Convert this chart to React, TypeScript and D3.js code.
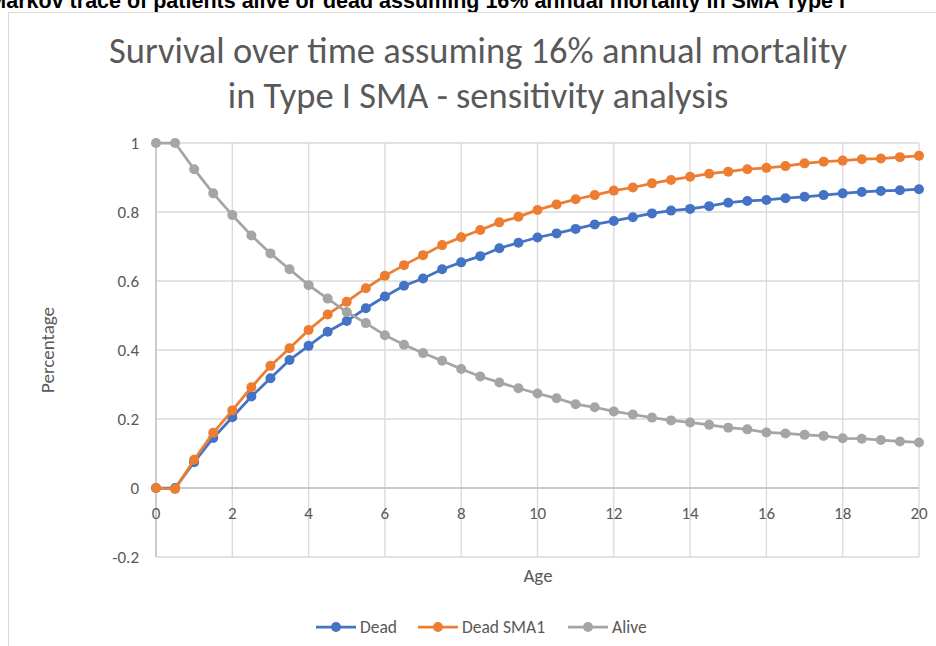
import React from "react";
import * as d3 from "d3";

const ages = [0,0.5,1,1.5,2,2.5,3,3.5,4,4.5,5,5.5,6,6.5,7,7.5,8,8.5,9,9.5,10,10.5,11,11.5,12,12.5,13,13.5,14,14.5,15,15.5,16,16.5,17,17.5,18,18.5,19,19.5,20];
const dead = [0,0,0.075,0.145,0.205,0.265,0.318,0.371,0.412,0.453,0.484,0.521,0.555,0.586,0.607,0.634,0.654,0.672,0.695,0.711,0.726,0.738,0.751,0.764,0.774,0.785,0.796,0.804,0.809,0.817,0.827,0.832,0.835,0.840,0.844,0.849,0.854,0.858,0.861,0.863,0.866];
const deadSMA1 = [0,-0.003,0.082,0.16,0.225,0.292,0.354,0.405,0.458,0.503,0.540,0.579,0.615,0.646,0.675,0.704,0.727,0.748,0.770,0.786,0.806,0.822,0.837,0.849,0.862,0.871,0.883,0.893,0.902,0.911,0.917,0.924,0.928,0.933,0.941,0.946,0.949,0.953,0.955,0.959,0.963];
const alive = [1,1,0.924,0.854,0.791,0.732,0.680,0.634,0.588,0.549,0.510,0.478,0.443,0.415,0.391,0.369,0.345,0.323,0.306,0.289,0.274,0.260,0.243,0.234,0.222,0.213,0.204,0.196,0.190,0.183,0.175,0.170,0.161,0.158,0.154,0.151,0.144,0.143,0.139,0.135,0.132];

const seriesNames = ["Dead", "Dead SMA1", "Alive"];
const seriesColors = ["#4472C4", "#ED7D31", "#A5A5A5"];
const seriesValues = [dead, deadSMA1, alive];

const xTicks = [0,2,4,6,8,10,12,14,16,18,20];
const yTicks = [-0.2,0,0.2,0.4,0.6,0.8,1];
const yTickLabels = ["-0.2","0","0.2","0.4","0.6","0.8","1"];

const heading = "Markov trace of patients alive or dead assuming 16% annual mortality in SMA Type I";
const titleLines = ["Survival over time assuming 16% annual mortality", "in Type I SMA - sensitivity analysis"];

export default function App() {
  const W = 936, H = 646;
  const x = d3.scaleLinear().domain([0, 20]).range([156, 919]);
  const y = d3.scaleLinear().domain([-0.2, 1]).range([557, 143]);
  const line = d3.line<[number, number]>().x(d => x(d[0])).y(d => y(d[1]));
  const font = "Calibri, Carlito, 'Open Sans', sans-serif";
  const legendX = [316, 418, 568];
  return (
    <svg width={W} height={H} style={{ position: "absolute", left: 0, top: 0, background: "#fff" }}>
      <rect x={0} y={0} width={W} height={H} fill="#fff" />
      <text x={845} y={8} textAnchor="end" fontFamily="'Liberation Sans', Arial, sans-serif" fontWeight="bold" fontSize={21.5} fill="#000">{heading}</text>
      <path d={`M8.5,${H} V12.5 H${W}`} fill="none" stroke="#d9d9d9" strokeWidth={1} />
      {titleLines.map((t, i) => (
        <text key={i} x={478} y={63 + i * 45} textAnchor="middle" fontFamily={font} fontSize={36.5} fill="#595959">{t}</text>
      ))}
      {yTicks.map(v => (
        <line key={"h" + v} x1={x(0)} x2={x(20)} y1={y(v)} y2={y(v)} stroke="#d9d9d9" strokeWidth={1.3} />
      ))}
      {xTicks.map(v => (
        <line key={"v" + v} x1={x(v)} x2={x(v)} y1={y(-0.2)} y2={y(1)} stroke="#d9d9d9" strokeWidth={1.3} />
      ))}
      <line x1={x(0)} x2={x(20)} y1={y(0)} y2={y(0)} stroke="#bfbfbf" strokeWidth={1.3} />
      <line x1={x(0)} x2={x(0)} y1={y(-0.2)} y2={y(1)} stroke="#bfbfbf" strokeWidth={1.3} />
      {yTicks.map((v, i) => (
        <text key={"yl" + v} x={139} y={y(v) + 6} textAnchor="end" fontFamily={font} fontSize={17} fill="#595959">{yTickLabels[i]}</text>
      ))}
      {xTicks.map(v => (
        <text key={"xl" + v} x={x(v)} y={519} textAnchor="middle" fontFamily={font} fontSize={17} fill="#595959">{v}</text>
      ))}
      <text x={538} y={582} textAnchor="middle" fontFamily={font} fontSize={19} fill="#595959">Age</text>
      <text transform="translate(54,350) rotate(-90)" textAnchor="middle" fontFamily={font} fontSize={19} fill="#595959">Percentage</text>
      {seriesValues.map((vals, si) => {
        const pts = ages.map((a, i) => [a, vals[i]] as [number, number]);
        return (
          <g key={si}>
            <path d={line(pts) || ""} fill="none" stroke={seriesColors[si]} strokeWidth={2.75} />
            {pts.map((p, i) => (
              <circle key={i} cx={x(p[0])} cy={y(p[1])} r={5} fill={seriesColors[si]} />
            ))}
          </g>
        );
      })}
      {seriesNames.map((n, i) => (
        <g key={n}>
          <line x1={legendX[i]} x2={legendX[i] + 40} y1={627} y2={627} stroke={seriesColors[i]} strokeWidth={2.75} />
          <circle cx={legendX[i] + 20} cy={627} r={5} fill={seriesColors[i]} />
          <text x={legendX[i] + 44} y={633} fontFamily={font} fontSize={17.5} fill="#595959">{n}</text>
        </g>
      ))}
    </svg>
  );
}
